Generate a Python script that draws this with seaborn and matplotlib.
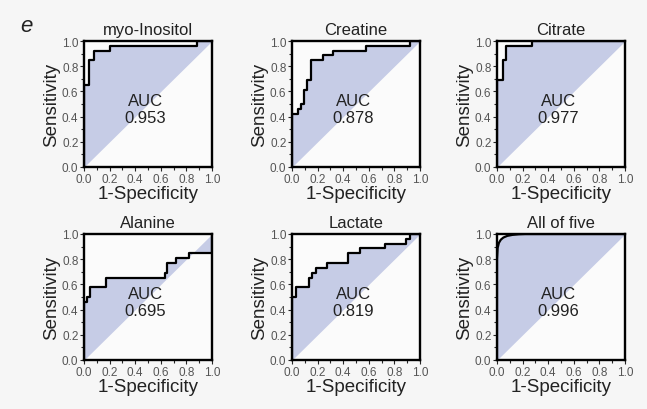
import numpy as np
import matplotlib
matplotlib.use("Agg")
import matplotlib.pyplot as plt
from matplotlib.ticker import MultipleLocator
import seaborn as sns

# ROC corner points (1-specificity, sensitivity)
panels = ["myo-Inositol", "Creatine", "Citrate", "Alanine", "Lactate", "All of five"]
auc_values = ["0.953", "0.878", "0.977", "0.695", "0.819", "0.996"]

myo_fpr = [0.0, 0.0, 0.04, 0.08, 0.20, 0.88, 1.0]
myo_tpr = [0.0, 0.654, 0.846, 0.923, 0.962, 1.0, 1.0]

cre_fpr = [0.0, 0.0, 0.05, 0.07, 0.09, 0.12, 0.15, 0.24, 0.32, 0.58, 0.92, 1.0]
cre_tpr = [0.0, 0.423, 0.462, 0.50, 0.615, 0.692, 0.846, 0.885, 0.923, 0.962, 1.0, 1.0]

cit_fpr = [0.0, 0.0, 0.05, 0.07, 0.27, 1.0]
cit_tpr = [0.0, 0.692, 0.846, 0.962, 1.0, 1.0]

ala_fpr = [0.0, 0.0, 0.02, 0.05, 0.17, 0.63, 0.65, 0.72, 0.82, 1.0, 1.0]
ala_tpr = [0.0, 0.462, 0.50, 0.577, 0.654, 0.692, 0.769, 0.808, 0.846, 0.846, 1.0]

lac_fpr = [0.0, 0.0, 0.03, 0.13, 0.16, 0.19, 0.27, 0.44, 0.53, 0.73, 0.89, 0.92, 1.0]
lac_tpr = [0.0, 0.50, 0.577, 0.654, 0.692, 0.731, 0.769, 0.846, 0.885, 0.923, 0.962, 1.0, 1.0]

# combined model: smooth curve
all_fpr = [0.0, 0.0, 0.005, 0.015, 0.03, 0.05, 0.08, 0.12, 0.17, 0.22, 1.0]
all_tpr = [0.0, 0.80, 0.89, 0.93, 0.955, 0.972, 0.985, 0.993, 0.998, 1.0, 1.0]

curves = [(myo_fpr, myo_tpr, True), (cre_fpr, cre_tpr, True), (cit_fpr, cit_tpr, True),
          (ala_fpr, ala_tpr, True), (lac_fpr, lac_tpr, True), (all_fpr, all_tpr, False)]

sns.set_theme(style="ticks")
plt.rcParams['font.family'] = ['Liberation Sans', 'DejaVu Sans']

BG = '#f6f6f6'
FILL = '#c6cce6'

fig = plt.figure(figsize=(6.47, 4.10), dpi=100, facecolor=BG)
W, H = 647, 410
lefts = [84, 292, 497]
tops = [42, 235]
aw, ah = 128, 126

for i, (name, auc, (fpr, tpr, stepped)) in enumerate(zip(panels, auc_values, curves)):
    r, c = divmod(i, 3)
    ax = fig.add_axes([lefts[c] / W, (H - tops[r] - ah) / H, aw / W, ah / H])
    ax.set_facecolor('#fbfbfb')
    fpr = np.asarray(fpr); tpr = np.asarray(tpr)
    xg = np.linspace(0, 1, 801)
    if stepped:
        yg = tpr[np.searchsorted(fpr, xg, side='right') - 1]
        sns.lineplot(x=fpr, y=tpr, ax=ax, color='black', lw=1.6, drawstyle='steps-post',
                     sort=False, estimator=None, zorder=3)
    else:
        yg = np.interp(xg, fpr[1:], tpr[1:])
        sns.lineplot(x=fpr, y=tpr, ax=ax, color='black', lw=1.6, sort=False,
                     estimator=None, zorder=3)
    ax.fill_between(xg, yg, xg, color=FILL, lw=0, zorder=1)
    ax.set_xlim(0, 1); ax.set_ylim(0, 1)
    ax.xaxis.set_major_locator(MultipleLocator(0.2))
    ax.yaxis.set_major_locator(MultipleLocator(0.2))
    ax.xaxis.set_minor_locator(MultipleLocator(0.1))
    ax.yaxis.set_minor_locator(MultipleLocator(0.1))
    ax.xaxis.set_major_formatter(plt.FormatStrFormatter('%.1f'))
    ax.yaxis.set_major_formatter(plt.FormatStrFormatter('%.1f'))
    ax.tick_params(which='major', direction='out', length=3, width=0.8, labelsize=8.5,
                   labelcolor='#555555', pad=1)
    ax.tick_params(which='minor', direction='out', length=2, width=0.8)
    for sp in ax.spines.values():
        sp.set_linewidth(1.7); sp.set_color('black'); sp.set_visible(True)
    ax.set_title(name, fontsize=12, pad=5, color='#222222')
    ax.set_xlabel('1-Specificity', fontsize=13.5, labelpad=0, color='#222222')
    ax.set_ylabel('Sensitivity', fontsize=13.5, labelpad=1, color='#222222')
    ax.text(0.48, 0.46, 'AUC\n' + auc, transform=ax.transAxes, ha='center', va='center',
            fontsize=12, color='#222222', linespacing=1.1, zorder=4)

fig.text(20 / W, 1 - 26 / H, 'e', fontsize=16, style='italic', va='center', ha='left',
         color='#222222')

fig.savefig('out.png', dpi=100, facecolor=BG)
